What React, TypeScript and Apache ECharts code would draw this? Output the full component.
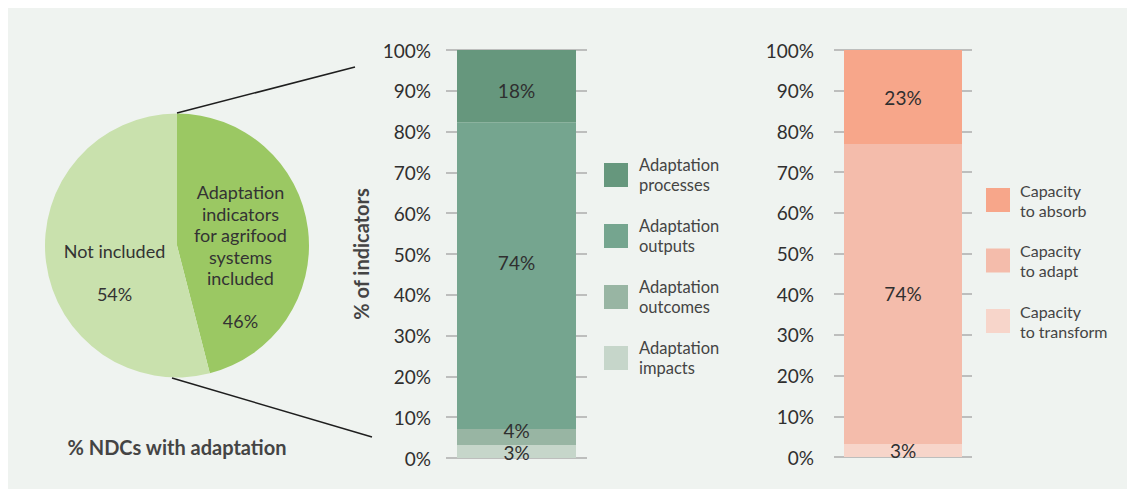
import React, { useEffect, useRef } from "react";
import * as echarts from "echarts";

const pieNames = ["Adaptation indicators for agrifood systems included", "Not included"];
const pieLabels = ["Adaptation\nindicators\nfor agrifood\nsystems\nincluded\n\n46%", "Not included\n\n54%"];
const pieValues = [46, 54];

const leftSeriesNames = ["Adaptation impacts", "Adaptation outcomes", "Adaptation outputs", "Adaptation processes"];
const leftValues = [3.2, 3.9, 75.1, 17.8];
const leftLabels = ["3%", "4%", "74%", "18%"];
const leftColors = ["#c6d6ca", "#98b5a3", "#75a58f", "#66977d"];

const rightSeriesNames = ["Capacity to transform", "Capacity to adapt", "Capacity to absorb"];
const rightValues = [3.2, 73.7, 23.1];
const rightLabels = ["3%", "74%", "23%"];
const rightColors = ["#f7d5ca", "#f4bcab", "#f7a68a"];

const yTicks = [0, 10, 20, 30, 40, 50, 60, 70, 80, 90, 100];

const FONT = "Lato, 'Noto Sans', sans-serif";

export default function App() {
  const ref = useRef<HTMLDivElement>(null);
  useEffect(() => {
    document.documentElement.style.overflow = "hidden";
    const chart = echarts.init(ref.current!, null, { renderer: "svg" });

    const leftLegendMap: Record<string, string> = {
      "Adaptation processes": "Adaptation\nprocesses",
      "Adaptation outputs": "Adaptation\noutputs",
      "Adaptation outcomes": "Adaptation\noutcomes",
      "Adaptation impacts": "Adaptation\nimpacts",
    };
    const rightLegendMap: Record<string, string> = {
      "Capacity to absorb": "Capacity\nto absorb",
      "Capacity to adapt": "Capacity\nto adapt",
      "Capacity to transform": "Capacity\nto transform",
    };

    const yAxisBase = (gridIndex: number, margin: number) => ({
      type: "value",
      gridIndex,
      min: yTicks[0],
      max: yTicks[yTicks.length - 1],
      interval: 10,
      axisLine: { show: false },
      axisTick: { show: false },
      axisLabel: { formatter: "{value}%", fontSize: 19, color: "#2f2f2f", fontFamily: FONT, margin },
      splitLine: { show: true, lineStyle: { color: "#adadad", width: 1.5 } },
    });

    const leftOffsets = [[0, 1], [0, -6], [0, -13], [0, 4]];

    const option: any = {
      animation: false,
      backgroundColor: "#eff3f0",
      textStyle: { fontFamily: FONT },
      grid: [
        { left: 438, top: 42, width: 141, height: 408 },
        { left: 826, top: 42, width: 138, height: 407 },
      ],
      xAxis: [
        { type: "category", gridIndex: 0, data: ["NDCs"], show: false },
        { type: "category", gridIndex: 1, data: ["NDCs"], show: false },
      ],
      yAxis: [
        {
          ...yAxisBase(0, 15),
          name: "% of indicators",
          nameLocation: "middle",
          nameRotate: 90,
          nameGap: 75,
          nameTextStyle: { fontSize: 20, fontWeight: "bold", color: "#444", fontFamily: FONT },
        },
        yAxisBase(1, 20),
      ],
      legend: [
        {
          left: 591,
          top: 142,
          orient: "vertical",
          icon: "rect",
          itemWidth: 24,
          itemHeight: 24,
          itemGap: 21,
          data: ["Adaptation processes", "Adaptation outputs", "Adaptation outcomes", "Adaptation impacts"],
          formatter: (n: string) => leftLegendMap[n],
          textStyle: { fontSize: 16.5, lineHeight: 20, color: "#444", fontFamily: FONT, padding: [0, 0, 0, 6] },
          selectedMode: false,
        },
        {
          left: 973,
          top: 167,
          orient: "vertical",
          icon: "rect",
          itemWidth: 24,
          itemHeight: 24,
          itemGap: 20.5,
          data: ["Capacity to absorb", "Capacity to adapt", "Capacity to transform"],
          formatter: (n: string) => rightLegendMap[n],
          textStyle: { fontSize: 16, lineHeight: 20, color: "#444", fontFamily: FONT, padding: [0, 0, 0, 5] },
          selectedMode: false,
        },
      ],
      series: [
        {
          type: "pie",
          center: [169, 237.5],
          radius: 132,
          startAngle: 90,
          clockwise: true,
          silent: true,
          data: pieValues.map((v, i) => ({
            value: v,
            name: pieNames[i],
            itemStyle: { color: i === 0 ? "#9bc863" : "#c9e1ad" },
            label: { formatter: pieLabels[i] },
          })),
          label: {
            show: true,
            position: "inside",
            fontSize: 18,
            lineHeight: 21.5,
            color: "#333",
            fontFamily: FONT,
            align: "center",
          },
          labelLine: { show: false },
          labelLayout: (p: any) => (p.dataIndex === 0 ? { dx: -5, dy: 20 } : { dx: 6, dy: 18 }),
        },
        ...leftSeriesNames.map((name, i) => ({
          type: "bar",
          name,
          xAxisIndex: 0,
          yAxisIndex: 0,
          stack: "left",
          barWidth: 119,
          data: [leftValues[i]],
          itemStyle: { color: leftColors[i] },
          label: {
            show: true,
            position: "inside",
            formatter: leftLabels[i],
            fontSize: 19,
            color: "#2f2f2f",
            fontFamily: FONT,
            offset: leftOffsets[i],
          },
        })),
        ...rightSeriesNames.map((name, i) => ({
          type: "bar",
          name,
          xAxisIndex: 1,
          yAxisIndex: 1,
          stack: "right",
          barWidth: 118,
          data: [rightValues[i]],
          itemStyle: { color: rightColors[i] },
          label: {
            show: true,
            position: "inside",
            formatter: rightLabels[i],
            fontSize: 19,
            color: "#2f2f2f",
            fontFamily: FONT,
          },
        })),
      ],
      graphic: [
        { type: "line", shape: { x1: 169, y1: 105, x2: 347, y2: 59 }, style: { stroke: "#1e1e1e", lineWidth: 1.5 }, z: 10 },
        { type: "line", shape: { x1: 164, y1: 370, x2: 364, y2: 429 }, style: { stroke: "#1e1e1e", lineWidth: 1.5 }, z: 10 },
        {
          type: "text",
          x: 169,
          y: 439,
          style: {
            text: "% NDCs with adaptation",
            fontSize: 20,
            fontWeight: "bold",
            fill: "#444",
            fontFamily: FONT,
            textAlign: "center",
            textVerticalAlign: "middle",
          },
        },
      ],
    };
    chart.setOption(option);
    return () => chart.dispose();
  }, []);
  return <div ref={ref} style={{ width: 1127, height: 481 }} />;
}
